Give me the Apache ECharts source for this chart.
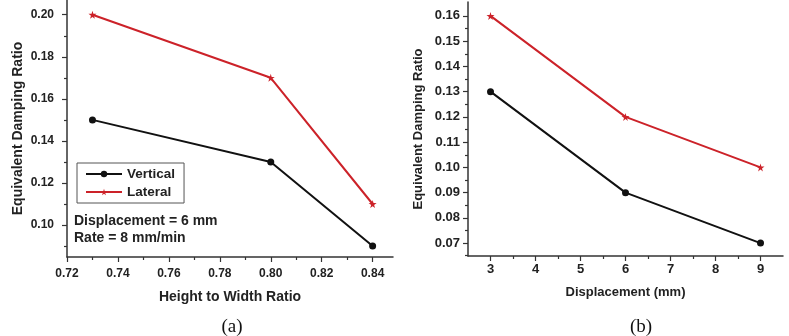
<!DOCTYPE html>
<html>
<head>
<meta charset="utf-8">
<script src="https://cdn.jsdelivr.net/npm/echarts@6/dist/echarts.min.js"></script>
<style>
  html, body { margin: 0; padding: 0; background: #fff; }
  #chart { width: 789px; height: 336px; }
</style>
</head>
<body>
<div id="chart"></div>
<script>
// (a) 高宽比
var ratioX = [0.73, 0.80, 0.84];
var ratioVertical = [0.15, 0.13, 0.09];
var ratioLateral = [0.20, 0.17, 0.11];
var ratioXTicks = [0.72, 0.74, 0.76, 0.78, 0.80, 0.82, 0.84];
var ratioXMinor = [0.73, 0.75, 0.77, 0.79, 0.81, 0.83];
var ratioYTicks = [0.10, 0.12, 0.14, 0.16, 0.18, 0.20];
var ratioYMinor = [0.09, 0.11, 0.13, 0.15, 0.17, 0.19];

// (b) 位移
var dispX = [3, 6, 9];
var dispVertical = [0.13, 0.09, 0.07];
var dispLateral = [0.16, 0.12, 0.10];
var dispXTicks = [3, 4, 5, 6, 7, 8, 9];
var dispXMinor = [3.5, 4.5, 5.5, 6.5, 7.5, 8.5];
var dispYTicks = [0.07, 0.08, 0.09, 0.10, 0.11, 0.12, 0.13, 0.14, 0.15, 0.16];
var dispYMinor = [0.065, 0.075, 0.085, 0.095, 0.105, 0.115, 0.125, 0.135, 0.145, 0.155];

var FONT = '"Liberation Sans", Arial, sans-serif';
var AXIS_COLOR = '#333333';
var RED = '#cc2229';
var BLACK = '#111111';
var STAR = 'path://M50,0 L61,35 L98,35 L68,57 L79,91 L50,70 L21,91 L32,57 L2,35 L39,35 Z';

function pairs(xs, ys) {
    return xs.map(function(x, i) { return [x, ys[i]]; });
}

// 主坐标轴（刻度+标签）
function mainAxis(grid, pos, min, max, ticks, digits, fontSize, margin, name, nameSize, nameGap) {
    return {
        type: 'value', gridIndex: grid, position: pos, min: min, max: max,
        name: name, nameLocation: 'middle', nameGap: nameGap,
        nameTextStyle: { fontFamily: FONT, fontWeight: 'bold', fontSize: nameSize, color: '#222' },
        axisLine: { show: true, onZero: false, lineStyle: { color: AXIS_COLOR, width: 1.5 } },
        axisTick: { show: true, inside: false, length: 5, customValues: ticks, lineStyle: { color: AXIS_COLOR, width: 1.2 } },
        axisLabel: {
            customValues: ticks, margin: margin,
            fontFamily: FONT, fontWeight: 'bold', fontSize: fontSize, color: '#222',
            formatter: function(v) { return digits ? v.toFixed(digits) : String(v); }
        },
        splitLine: { show: false }
    };
}

// 次刻度（叠加在同一位置的隐藏轴）
function minorAxis(grid, pos, min, max, ticks) {
    return {
        type: 'value', gridIndex: grid, position: pos, offset: 0, min: min, max: max,
        axisLine: { show: false, onZero: false },
        axisTick: { show: true, inside: false, length: 3, customValues: ticks, lineStyle: { color: AXIS_COLOR, width: 1.2 } },
        axisLabel: { show: false },
        splitLine: { show: false }
    };
}

function lineSeries(name, xi, yi, data, color, symbol, size) {
    return {
        name: name, type: 'line', xAxisIndex: xi, yAxisIndex: yi,
        data: data, symbol: symbol, symbolSize: size,
        lineStyle: { color: color, width: 2 },
        itemStyle: { color: color },
        animation: false
    };
}

var chart = echarts.init(document.getElementById('chart'));

var option = {
    backgroundColor: '#ffffff',
    animation: false,
    title: [
        { text: '(a)', left: 227, top: 313, textAlign: 'center',
          textStyle: { fontFamily: '"Liberation Serif", serif', fontWeight: 'normal', fontSize: 19, color: '#111' } },
        { text: '(b)', left: 636, top: 313, textAlign: 'center',
          textStyle: { fontFamily: '"Liberation Serif", serif', fontWeight: 'normal', fontSize: 19, color: '#111' } }
    ],
    legend: {
        data: ['Vertical', 'Lateral'],
        orient: 'vertical',
        left: 77, top: 163,
        padding: [4, 9, 4, 8],
        itemWidth: 36, itemHeight: 8, itemGap: 4,
        borderColor: '#555555', borderWidth: 1,
        textStyle: { fontFamily: FONT, fontWeight: 'bold', fontSize: 13.5, color: '#222' }
    },
    grid: [
        { left: 67, top: 0, right: 396, bottom: 79 },
        { left: 468, top: 2, right: 6, bottom: 80 }
    ],
    xAxis: [
        mainAxis(0, 'bottom', 0.72, 0.848, ratioXTicks, 2, 12, 11, 'Height to Width Ratio', 14, 33),
        minorAxis(0, 'bottom', 0.72, 0.848, ratioXMinor),
        mainAxis(1, 'bottom', 2.5, 9.5, dispXTicks, 0, 13, 7, 'Displacement (mm)', 13, 30),
        minorAxis(1, 'bottom', 2.5, 9.5, dispXMinor)
    ],
    yAxis: [
        mainAxis(0, 'left', 0.0848, 0.207, ratioYTicks, 2, 12, 13, 'Equivalent Damping Ratio', 14, 42),
        minorAxis(0, 'left', 0.0848, 0.207, ratioYMinor),
        mainAxis(1, 'left', 0.0649, 0.1655, dispYTicks, 2, 13, 8, 'Equivalent Damping Ratio', 13, 43),
        minorAxis(1, 'left', 0.0649, 0.1655, dispYMinor)
    ],
    graphic: [
        { type: 'text', left: 74, top: 214,
          style: { text: 'Displacement = 6 mm', font: 'bold 14px ' + FONT, fill: '#222' } },
        { type: 'text', left: 74, top: 231,
          style: { text: 'Rate = 8 mm/min', font: 'bold 14px ' + FONT, fill: '#222' } }
    ],
    series: [
        lineSeries('Vertical', 0, 0, pairs(ratioX, ratioVertical), BLACK, 'circle', 7),
        lineSeries('Lateral', 0, 0, pairs(ratioX, ratioLateral), RED, STAR, 8),
        lineSeries('Vertical', 2, 2, pairs(dispX, dispVertical), BLACK, 'circle', 7),
        lineSeries('Lateral', 2, 2, pairs(dispX, dispLateral), RED, STAR, 8)
    ]
};

chart.setOption(option);
</script>
</body>
</html>
